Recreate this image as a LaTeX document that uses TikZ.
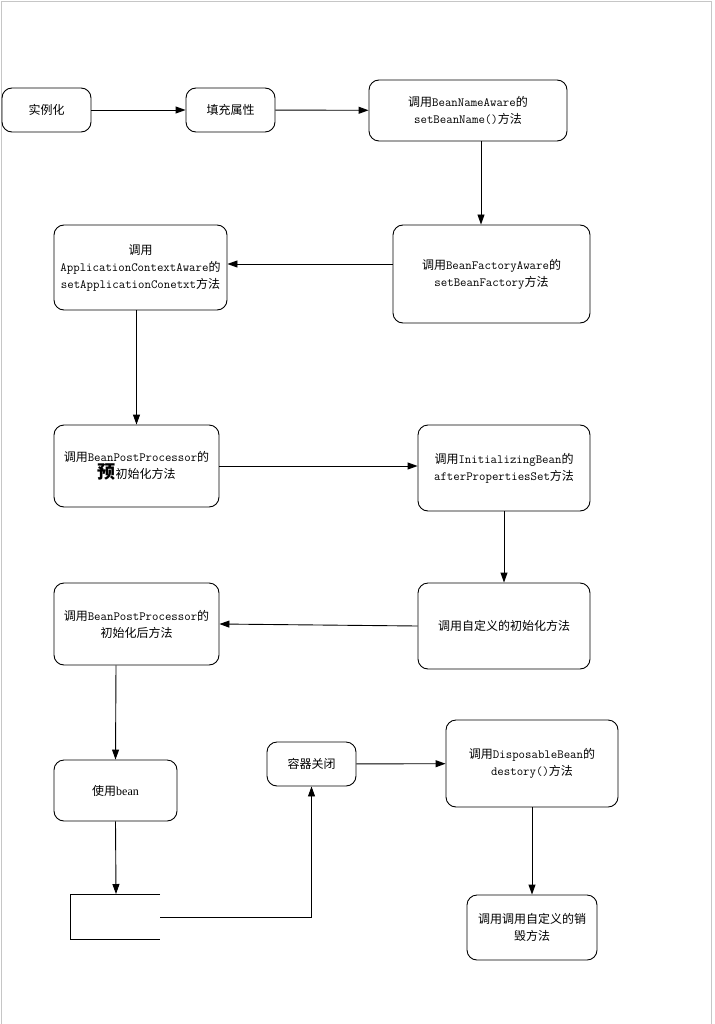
\documentclass[tikz,border=0pt]{standalone}
\usepackage{fontspec}
\setmainfont{Noto Sans CJK SC}
\newfontfamily\latinserif{Liberation Serif}
\usetikzlibrary{arrows.meta}
\newcommand{\mn}[1]{{\ttfamily\fontsize{12.5}{17}\selectfont #1}}

\begin{document}
\begin{tikzpicture}[x=1pt, y=-1pt, line width=0.9pt,
  box/.style={draw, rounded corners=10pt, align=center, inner sep=0pt,
    font=\fontsize{12}{17}\selectfont},
  flow/.style={-{Triangle[length=10pt, width=7pt]}}]
\useasboundingbox (0,0) rectangle (714,1024);
\draw[gray!45] (1,1024)--(1,1)--(711,1)--(711,1024);

% first row
\node[box, minimum width=89pt, minimum height=44pt] (inst) at (46.5,110) {实例化};
\node[box, minimum width=89pt, minimum height=44pt] (fill) at (230.5,110) {填充属性};
\node[box, minimum width=198pt, minimum height=61pt] (bna) at (468,110.5)
  {调用\mn{BeanNameAware}的\\\mn{setBeanName()}方法};

% aware callbacks
\node[box, minimum width=197pt, minimum height=98pt] (bfa) at (491.5,274)
  {调用\mn{BeanFactoryAware}的\\\mn{setBeanFactory}方法};
\node[box, minimum width=173pt, minimum height=85pt] (actx) at (140.5,267.5)
  {调用\\\mn{ApplicationContextAware}的\\\mn{setApplicationConetxt}方法};

% init
\node[box, minimum width=165pt, minimum height=82pt] (bpp) at (136.5,466)
  {调用\mn{BeanPostProcessor}的\\{\fontsize{18}{17}\selectfont\bfseries 预}初始化方法};
\node[box, minimum width=172pt, minimum height=86pt] (init) at (504,468)
  {调用\mn{InitializingBean}的\\\mn{afterPropertiesSet}方法};
\node[box, minimum width=172pt, minimum height=86pt] (cus) at (504,626)
  {调用自定义的初始化方法};
\node[box, minimum width=165pt, minimum height=82pt] (bppa) at (136.5,624)
  {调用\mn{BeanPostProcessor}的\\初始化后方法};

% use and destroy
\node[box, minimum width=123pt, minimum height=61pt] (use) at (115.5,790.5)
  {使用{\latinserif bean}};
\node[box, minimum width=89pt, minimum height=44pt] (close) at (311.5,764) {容器关闭};
\node[box, minimum width=172pt, minimum height=87pt] (dis) at (532,763.5)
  {调用\mn{DisposableBean}的\\\mn{destory()}方法};
\node[box, minimum width=130pt, minimum height=65pt] (des) at (532,927.5)
  {调用调用自定义的销\\毁方法};

% open bracket
\draw (160,894) -| (70,939) -- (160,939);
\coordinate (brtop) at (116,894);
\coordinate (brright) at (160,917);

% arrows
\draw[flow] (inst) -- (fill);
\draw[flow] (fill) -- (bna);
\draw[flow] ([xshift=13pt]bna.south) -- ([xshift=-10.5pt]bfa.north);
\draw[flow] ([yshift=10pt]bfa.west) -- ([yshift=3.5pt]actx.east);
\draw[flow] ([xshift=-4pt]actx.south) -- (bpp.north);
\draw[flow] (bpp.east) -- ([yshift=2pt]init.west);
\draw[flow] (init) -- (cus);
\draw[flow] (cus.west) -- (bppa.east);
\draw[flow] ([xshift=-20.5pt]bppa.south) -- (use.north);
\draw[flow] (use.south) -- (brtop);
\draw[flow] (brright) -| (close.south);
\draw[flow] (close) -- (dis);
\draw[flow] (dis) -- (des);
\end{tikzpicture}
\end{document}
